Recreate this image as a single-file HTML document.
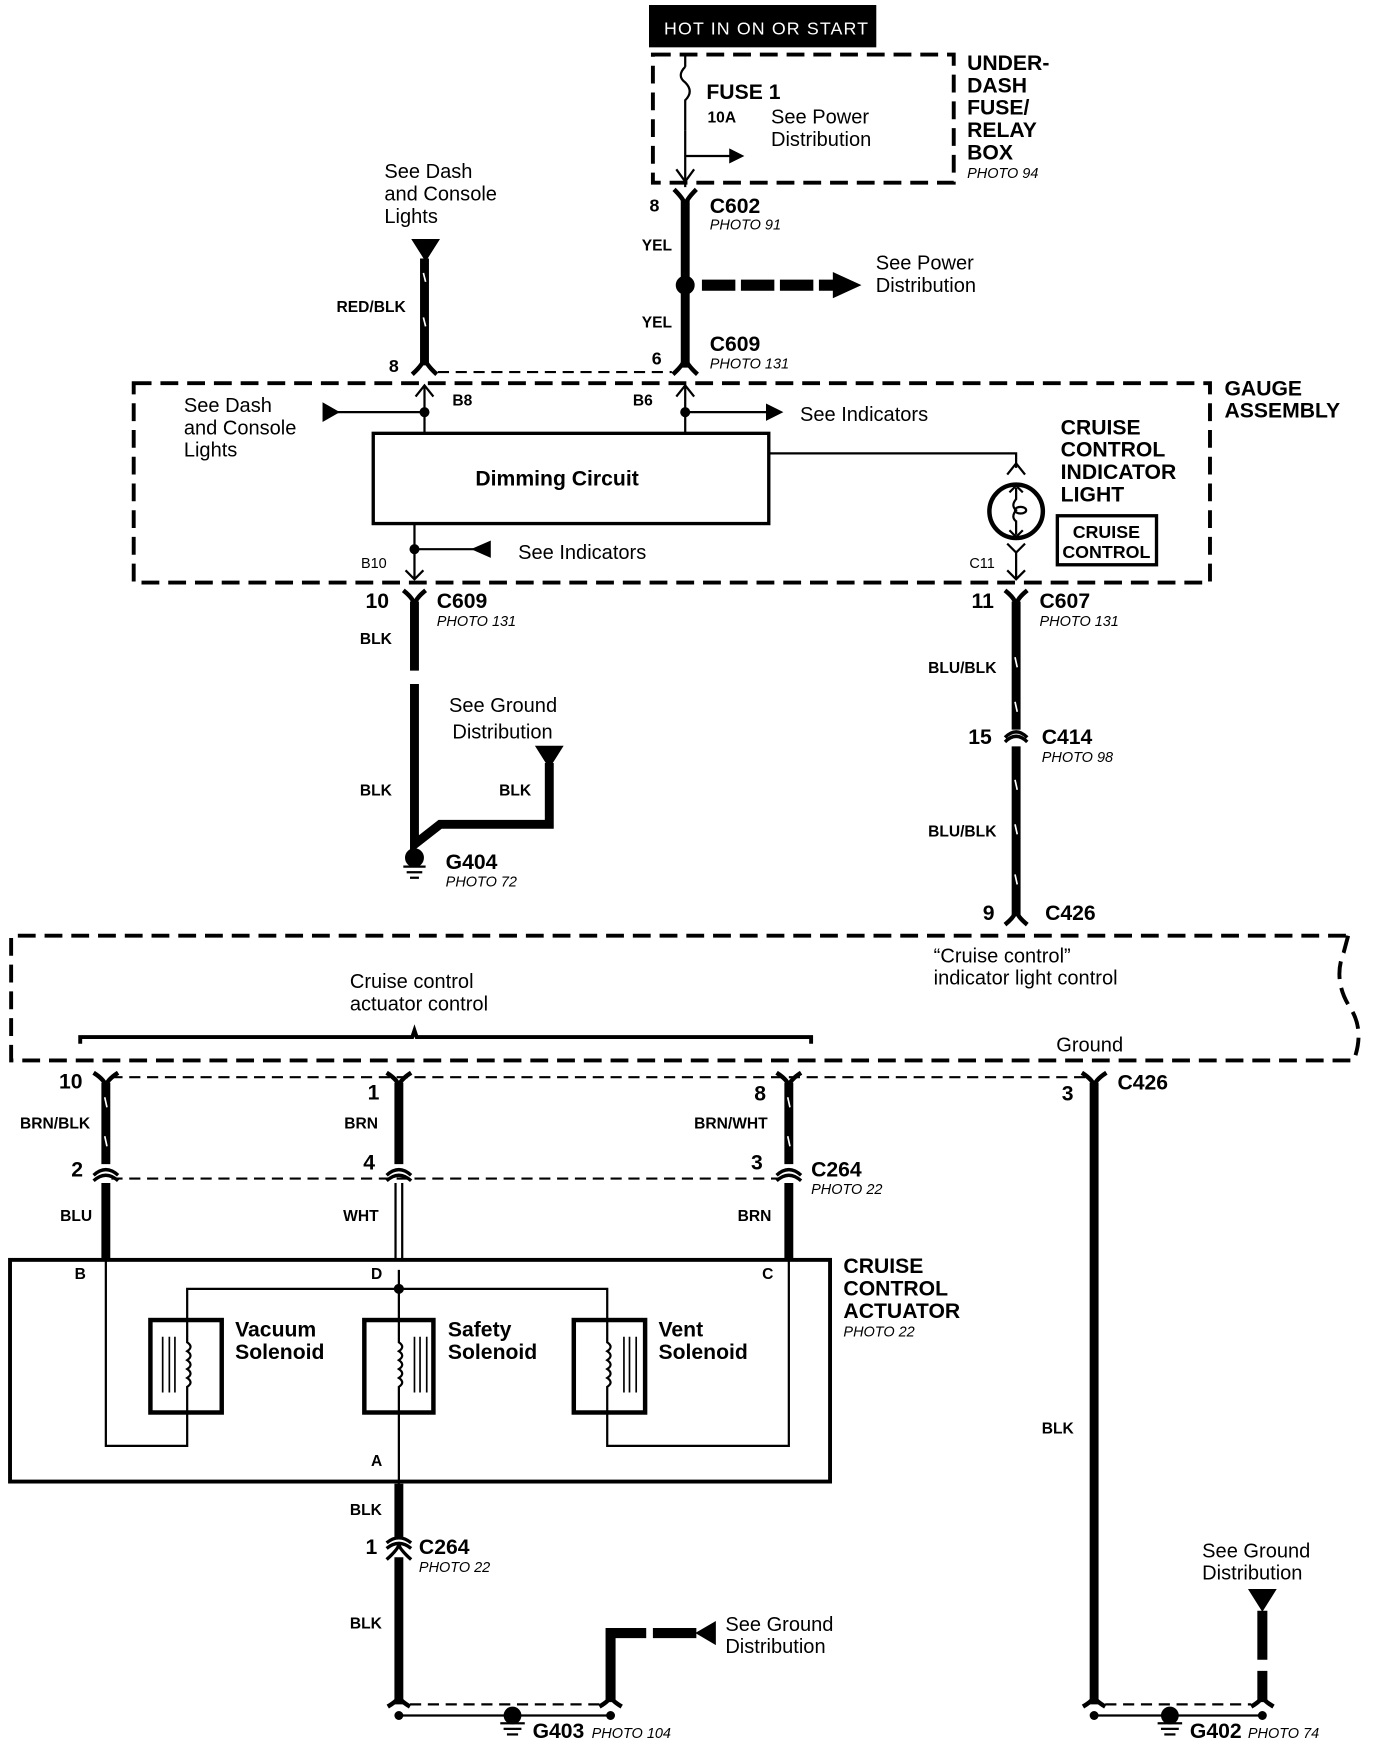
<!DOCTYPE html>
<html><head><meta charset="utf-8"><style>
html,body{margin:0;padding:0;background:#fff;}
svg{display:block;}
text{font-family:"Liberation Sans",sans-serif;fill:#000;}
.b{font-weight:bold;}
.L{font-size:19px;}
.M{font-size:18px;}
.S{font-size:14px;font-weight:bold;}
.P{font-size:13px;font-style:italic;}
.H{font-size:19px;font-weight:bold;}
</style></head><body>
<svg width="1376" height="1740" viewBox="0 0 1235 1562" preserveAspectRatio="none" xmlns="http://www.w3.org/2000/svg">
<g fill="none" stroke="#000">
<rect x="583" y="5" width="203" height="37" fill="#000"/>
<rect x="586" y="49" width="270" height="115" stroke-width="3.5" stroke-dasharray="16,8"/>
<path d="M615 49 V60 M615 60 q-8 8 0 14 q8 8 0 16 V117" stroke-width="2"/>
<path d="M615 117 V168 M615 140 H655" stroke-width="2"/>
<path d="M655 134 L667 140 L655 146 Z" fill="#000"/>
<path d="M607 152 L615 163 L623 152" stroke-width="2"/>
<path d="M615 180 V250 M615 262 V330" stroke-width="8"/>
<path d="M605 170 Q615 180 615 185 Q615 180 625 170" stroke-width="4"/>
<circle cx="615" cy="256" r="8" fill="#000"/>
<path d="M630 256 H748" stroke-width="10" stroke-dasharray="30,5"/>
<path d="M748 245 L772 256 L748 267 Z" fill="#000"/>
<path d="M370 215 H394 L382 234 Z" fill="#000"/>
<path d="M381 232 V328" stroke-width="8"/>
<path d="M380 245 l2 8 M380 285 l2 8" stroke="#fff" stroke-width="1.5"/>
<path d="M370 336 Q381 326 381 320 Q381 326 392 336 M604 336 Q615 326 615 320 Q615 326 626 336" stroke-width="4"/>
<path d="M393 334 H603" stroke-width="2" stroke-dasharray="10,6"/>
<rect x="120" y="344" width="966" height="179" stroke-width="3.5" stroke-dasharray="16,8"/>
<path d="M381 346 V388 M615 346 V388" stroke-width="2"/>
<path d="M373 356 L381 346 L389 356 M607 356 L615 346 L623 356" stroke-width="2"/>
<path d="M300 370 H381 M615 370 H690" stroke-width="2"/>
<path d="M290 362 L304 370 L290 378 Z M688 363 L702 370 L688 377 Z" fill="#000"/>
<circle cx="381" cy="370" r="4" fill="#000"/><circle cx="615" cy="370" r="4" fill="#000"/>
<rect x="335" y="389" width="355" height="81" stroke-width="3"/>
<path d="M690 407 H912 V420" stroke-width="2"/>
<path d="M904 426 L912 416 L920 426" stroke-width="2"/>
<circle cx="912" cy="459" r="24" stroke-width="4"/>
<path d="M912 438 V448 q-5 6 0 10 q-5 6 0 10 V480 M906 442 L912 436 L918 442 M906 476 L912 482 L918 476" stroke-width="2"/>
<ellipse cx="916" cy="458" rx="5" ry="3" stroke-width="2"/>
<path d="M904 488 L912 496 L920 488 M912 496 V520 M904 512 L912 520 L920 512" stroke-width="2"/>
<rect x="949" y="463" width="89" height="44" stroke-width="3"/>
<path d="M372 470 V520 M364 512 L372 520 L380 512 M372 493 H425" stroke-width="2"/>
<circle cx="372" cy="493" r="4" fill="#000"/>
<path d="M440 486 L424 493 L440 500 Z" fill="#000"/>
<path d="M362 530 Q372 538 372 544 Q372 538 382 530" stroke-width="4"/>
<path d="M372 540 V602 M372 614 V758 L395 740 H493 V685" stroke-width="8"/>
<path d="M481 670 H505 L493 689 Z" fill="#000"/>
<circle cx="372" cy="770" r="8" fill="#000"/>
<path d="M362 778 H382 M365 783 H379 M368 788 H376" stroke-width="2"/>
<path d="M902 530 Q912 538 912 544 Q912 538 922 530" stroke-width="4"/>
<path d="M912 540 V655 M912 670 V822" stroke-width="8"/>
<path d="M902 666 Q912 656 922 666 M902 662 Q912 652 922 662" stroke-width="3"/>
<path d="M911 590 l2 9 M911 630 l2 9 M911 700 l2 9 M911 740 l2 9 M911 785 l2 9" stroke="#fff" stroke-width="1.5"/>
<path d="M902 830 Q912 822 912 816 Q912 822 922 830" stroke-width="4"/>
<path d="M1208 840 H10 V952 H1215 Q1225 925 1212 905 Q1196 880 1206 855 L1210 840" stroke-width="3.5" stroke-dasharray="16,8"/>
<path d="M72 937 V931 H370 L372 925 L374 931 H728 V937" stroke-width="3.5"/>
<path d="M100 967 H975" stroke-width="2" stroke-dasharray="10,6"/>
<path d="M100 1058 H700" stroke-width="2" stroke-dasharray="10,6"/>
<path d="M84 963 Q95 970 95 976 Q95 970 106 963 M347 963 Q358 970 358 976 Q358 970 369 963 M697 963 Q708 970 708 976 Q708 970 719 963 M971 963 Q982 970 982 976 Q982 970 993 963" stroke-width="4"/>
<path d="M95 972 V1045 M358 972 V1045 M708 972 V1045 M982 972 V1530" stroke-width="8"/>
<path d="M94 985 l2 9 M94 1020 l2 9 M707 985 l2 9 M707 1020 l2 9" stroke="#fff" stroke-width="1.5"/>
<path d="M84 1055 Q95 1045 106 1055 M84 1060 Q95 1050 106 1060 M347 1055 Q358 1045 369 1055 M347 1060 Q358 1050 369 1060 M697 1055 Q708 1045 719 1055 M697 1060 Q708 1050 719 1060" stroke-width="3"/>
<path d="M95 1062 V1130 M708 1062 V1130" stroke-width="8"/>
<path d="M355 1062 V1130 M361 1062 V1130" stroke-width="2"/>
<rect x="9" y="1131" width="736" height="199" stroke-width="3.5"/>
<path d="M95 1131 V1298 H168 V1268 M708 1131 V1298 H545 V1268 M168 1185 V1157 H545 V1185 M358 1140 V1185 M358 1268 V1340" stroke-width="2"/>
<circle cx="358" cy="1157" r="4" fill="#000"/>
<rect x="135" y="1185" width="64" height="83" stroke-width="4"/>
<rect x="327" y="1185" width="62" height="83" stroke-width="4"/>
<rect x="515" y="1185" width="64" height="83" stroke-width="4"/>
<path d="M168 1185 V1205 q6 4 0 8 q6 4 0 8 q6 4 0 8 q6 4 0 8 q6 4 0 8 V1268 M358 1185 V1205 q6 4 0 8 q6 4 0 8 q6 4 0 8 q6 4 0 8 q6 4 0 8 V1268 M545 1185 V1205 q6 4 0 8 q6 4 0 8 q6 4 0 8 q6 4 0 8 q6 4 0 8 V1268" stroke-width="2"/>
<path d="M146 1200 V1250 M152 1200 V1250 M157 1200 V1250 M372 1200 V1250 M377 1200 V1250 M383 1200 V1250 M560 1200 V1250 M565 1200 V1250 M571 1200 V1250" stroke-width="1.5"/>
<path d="M358 1332 V1382 M358 1398 V1530" stroke-width="8"/>
<path d="M347 1385 Q358 1376 369 1385 M347 1390 Q358 1381 369 1390 M347 1400 Q358 1390 358 1386 Q358 1390 369 1400" stroke-width="3"/>
<path d="M348 1532 Q358 1526 358 1522 Q358 1526 368 1532 M538 1532 Q548 1526 548 1522 Q548 1526 558 1532 M972 1532 Q982 1526 982 1522 Q982 1526 992 1532 M1123 1532 Q1133 1526 1133 1522 Q1133 1526 1143 1532" stroke-width="4"/>
<path d="M368 1530 H538 M992 1530 H1123" stroke-width="2" stroke-dasharray="10,6"/>
<path d="M358 1540 H548 M982 1540 H1133" stroke-width="2"/>
<path d="M548 1528 V1466 H580 M586 1466 H625" stroke-width="9"/>
<path d="M642 1456 L625 1466 L642 1476 Z" fill="#000"/>
<path d="M1133 1446 V1490 M1133 1500 V1528" stroke-width="9"/>
<path d="M1121 1427 H1145 L1133 1446 Z" fill="#000"/>
</g>
<g fill="#000">
<circle cx="358" cy="1540" r="4"/><circle cx="548" cy="1540" r="4"/><circle cx="982" cy="1540" r="4"/><circle cx="1133" cy="1540" r="4"/>
<circle cx="460" cy="1540" r="8"/><circle cx="1050" cy="1540" r="8"/>
<rect x="449" y="1546" width="22" height="2"/><rect x="452" y="1551" width="16" height="2"/><rect x="455" y="1556" width="10" height="2"/>
<rect x="1039" y="1546" width="22" height="2"/><rect x="1042" y="1551" width="16" height="2"/><rect x="1045" y="1556" width="10" height="2"/>
</g>
<g>
<text x="596" y="31" style="font-size:16px;fill:#fff;letter-spacing:1px">HOT IN ON OR START</text>
<text x="634" y="89" class="H">FUSE 1</text>
<text x="635" y="110" class="S">10A</text>
<text x="692" y="111" class="M">See Power</text><text x="692" y="131" class="M">Distribution</text>
<text x="868" y="63" class="H">UNDER-</text><text x="868" y="83" class="H">DASH</text><text x="868" y="103" class="H">FUSE/</text><text x="868" y="123" class="H">RELAY</text><text x="868" y="143" class="H">BOX</text>
<text x="868" y="160" class="P">PHOTO 94</text>
<text x="583" y="190" class="S" style="font-size:16px">8</text>
<text x="637" y="191" class="H">C602</text><text x="637" y="206" class="P">PHOTO 91</text>
<text x="576" y="225" class="S">YEL</text>
<text x="786" y="242" class="M">See Power</text><text x="786" y="262" class="M">Distribution</text>
<text x="576" y="294" class="S">YEL</text>
<text x="637" y="315" class="H">C609</text><text x="637" y="331" class="P">PHOTO 131</text>
<text x="585" y="327" class="S" style="font-size:16px">6</text>
<text x="349" y="334" class="S" style="font-size:16px">8</text>
<text x="345" y="160" class="M">See Dash</text><text x="345" y="180" class="M">and Console</text><text x="345" y="200" class="M">Lights</text>
<text x="302" y="280" class="S">RED/BLK</text>
<text x="1099" y="355" class="H">GAUGE</text><text x="1099" y="375" class="H">ASSEMBLY</text>
<text x="406" y="364" class="S">B8</text><text x="568" y="364" class="S">B6</text>
<text x="165" y="370" class="M">See Dash</text><text x="165" y="390" class="M">and Console</text><text x="165" y="410" class="M">Lights</text>
<text x="718" y="378" class="M">See Indicators</text>
<text x="500" y="436" class="H" text-anchor="middle">Dimming Circuit</text>
<text x="952" y="390" class="H">CRUISE</text><text x="952" y="410" class="H">CONTROL</text><text x="952" y="430" class="H">INDICATOR</text><text x="952" y="450" class="H">LIGHT</text>
<text x="993" y="483" class="S" text-anchor="middle" style="font-size:16px">CRUISE</text><text x="993" y="501" class="S" text-anchor="middle" style="font-size:16px">CONTROL</text>
<text x="465" y="502" class="M">See Indicators</text>
<text x="324" y="510" style="font-size:13px">B10</text><text x="870" y="510" style="font-size:13px">C11</text>
<text x="328" y="546" class="H">10</text><text x="392" y="546" class="H">C609</text><text x="392" y="562" class="P">PHOTO 131</text>
<text x="323" y="578" class="S">BLK</text>
<text x="403" y="639" class="M">See Ground</text><text x="406" y="663" class="M">Distribution</text>
<text x="323" y="714" class="S">BLK</text><text x="448" y="714" class="S">BLK</text>
<text x="400" y="780" class="H">G404</text><text x="400" y="796" class="P">PHOTO 72</text>
<text x="872" y="546" class="H">11</text><text x="933" y="546" class="H">C607</text><text x="933" y="562" class="P">PHOTO 131</text>
<text x="833" y="604" class="S">BLU/BLK</text>
<text x="869" y="668" class="H">15</text><text x="935" y="668" class="H">C414</text><text x="935" y="684" class="P">PHOTO 98</text>
<text x="833" y="751" class="S">BLU/BLK</text>
<text x="882" y="826" class="H">9</text><text x="938" y="826" class="H">C426</text>
<text x="838" y="864" class="M">“Cruise control”</text><text x="838" y="884" class="M">indicator light control</text>
<text x="314" y="887" class="M">Cruise control</text><text x="314" y="907" class="M">actuator control</text>
<text x="948" y="944" class="M">Ground</text>
<text x="53" y="977" class="H">10</text><text x="330" y="987" class="H">1</text><text x="677" y="988" class="H">8</text><text x="953" y="988" class="H">3</text>
<text x="1003" y="978" class="H">C426</text>
<text x="18" y="1013" class="S">BRN/BLK</text><text x="309" y="1013" class="S">BRN</text><text x="623" y="1013" class="S">BRN/WHT</text>
<text x="64" y="1056" class="H">2</text><text x="326" y="1050" class="H">4</text><text x="674" y="1050" class="H">3</text>
<text x="728" y="1056" class="H">C264</text><text x="728" y="1072" class="P">PHOTO 22</text>
<text x="54" y="1096" class="S">BLU</text><text x="308" y="1096" class="S">WHT</text><text x="662" y="1096" class="S">BRN</text>
<text x="67" y="1148" class="S">B</text><text x="333" y="1148" class="S">D</text><text x="684" y="1148" class="S">C</text><text x="333" y="1316" class="S">A</text>
<text x="757" y="1143" class="H">CRUISE</text><text x="757" y="1163" class="H">CONTROL</text><text x="757" y="1183" class="H">ACTUATOR</text><text x="757" y="1200" class="P">PHOTO 22</text>
<text x="211" y="1200" class="H">Vacuum</text><text x="211" y="1220" class="H">Solenoid</text>
<text x="402" y="1200" class="H">Safety</text><text x="402" y="1220" class="H">Solenoid</text>
<text x="591" y="1200" class="H">Vent</text><text x="591" y="1220" class="H">Solenoid</text>
<text x="314" y="1360" class="S">BLK</text>
<text x="328" y="1395" class="H">1</text><text x="376" y="1395" class="H">C264</text><text x="376" y="1411" class="P">PHOTO 22</text>
<text x="314" y="1462" class="S">BLK</text>
<text x="651" y="1464" class="M">See Ground</text><text x="651" y="1484" class="M">Distribution</text>
<text x="935" y="1287" class="S">BLK</text>
<text x="1079" y="1398" class="M">See Ground</text><text x="1079" y="1418" class="M">Distribution</text>
<text x="478" y="1560" class="H">G403</text><text x="531" y="1560" class="P">PHOTO 104</text>
<text x="1068" y="1560" class="H">G402</text><text x="1120" y="1560" class="P">PHOTO 74</text>
</g>
</svg>
</body></html>
